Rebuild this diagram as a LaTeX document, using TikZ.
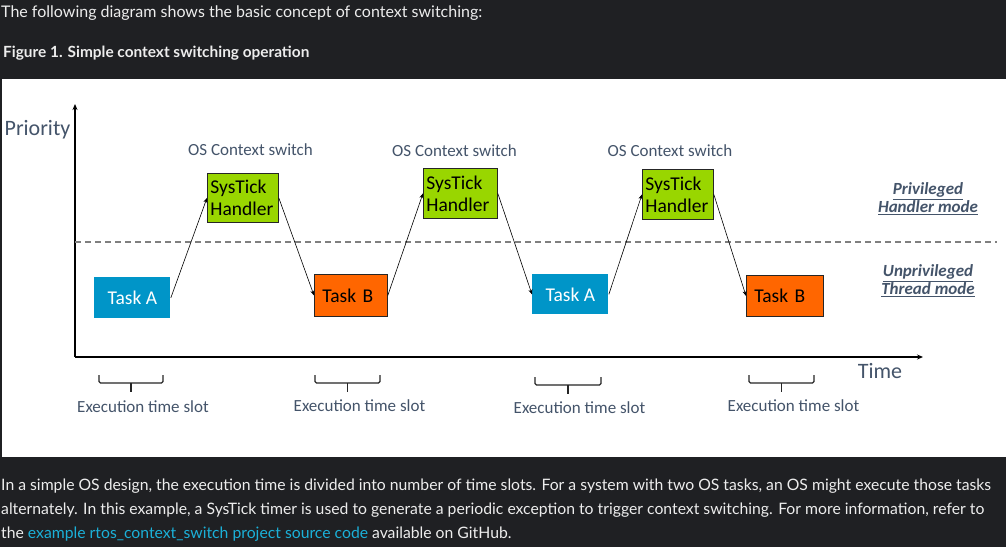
\documentclass[tikz,border=0pt]{standalone}
\usepackage{fontspec}
\setmainfont{Carlito}
\newfontfamily\lato{Lato}
\usetikzlibrary{arrows.meta}
\definecolor{pagebg}{HTML}{1F2023}
\definecolor{pagetext}{HTML}{EDEDED}
\definecolor{linkc}{HTML}{1BB0D8}
\definecolor{labgray}{HTML}{44546A}
\definecolor{taskblue}{HTML}{0095C8}
\definecolor{sysgreen}{HTML}{99D600}
\definecolor{taskorange}{HTML}{FF6600}
\definecolor{dashgray}{HTML}{7F7F7F}
\begin{document}
\begin{tikzpicture}[x=1pt,y=-1pt,
  box/.style={draw=black!85, line width=0.8pt, inner ysep=0pt, anchor=north west,
    font=\fontsize{19.5}{22}\selectfont},
  taskabox/.style={box, draw=none, fill=taskblue, text=white, align=center, inner xsep=0pt},
  taskbbox/.style={box, fill=taskorange, align=left, inner xsep=8pt},
  sysbox/.style={box, fill=sysgreen, align=left, inner xsep=3pt},
  lab/.style={text=labgray, font=\fontsize{17}{20}\selectfont, inner sep=0pt},
  modelab/.style={text=labgray, font=\fontsize{17}{18}\selectfont\bfseries\itshape, align=center, inner sep=0pt},
  conn/.style={line width=0.6pt, -{Stealth[length=5pt,width=4pt]}},
  axis/.style={line width=1.5pt, -{Stealth[length=6pt,width=5pt]}},
  bracestyle/.style={line width=1.3pt, draw=black!85, rounded corners=1.5pt},
  page/.style={text=pagetext, inner sep=0pt, anchor=base west, font=\lato\fontsize{15.75}{18}\selectfont}
]
\useasboundingbox (0,0) rectangle (1006,547);
\fill[pagebg] (0,0) rectangle (1006,547);
\fill[white] (2,79) rectangle (1006,457);

% page text
\node[page, font=\lato\fontsize{16}{18}\selectfont] (intro) at (1,17) {The following diagram shows the basic concept of context switching:};
\node[page, font=\lato\fontsize{15.4}{18}\selectfont\bfseries] (fig) at (3,57) {Figure 1. Simple context switching operation};
\node[page] (p1) at (1,490) {In a simple OS design, the execution time is divided into number of time slots. For a system with two OS tasks, an OS might execute those tasks};
\node[page] (p2) at (1,514) {alternately. In this example, a SysTick timer is used to generate a periodic exception to trigger context switching. For more information, refer to};
\node[page] (p3) at (1,538) {the \textcolor{linkc}{example rtos\_context\_switch project source code} available on GitHub.};

% axes
\coordinate (origin) at (75,357);
\coordinate (ytop) at (75,104);
\coordinate (xend) at (923,357);
\draw[axis] (origin) -- (ytop);
\draw[axis] (origin) -- (xend);
\coordinate (dashL) at (75,242);
\coordinate (dashR) at (997,242);
\draw[dashgray, line width=1.2pt, dash pattern=on 6pt off 4pt] (dashL) -- (dashR);

\node[lab, font=\fontsize{22}{24}\selectfont] (prio) at (37.5,130) {Priority};
\node[lab, font=\fontsize{22}{24}\selectfont] (time) at (880,371) {Time};

% boxes
\node[taskabox, minimum width=76pt, minimum height=41pt] (ta1) at (94,277) {Task A};
\node[sysbox, text width=65pt, minimum height=49pt] (s1) at (207,173) {SysTick\\Handler};
\node[taskbbox, text width=57pt, minimum height=42pt] (tb1) at (314,274) {Task B};
\node[sysbox, text width=68pt, minimum height=50pt] (s2) at (423,168) {SysTick\\Handler};
\node[taskabox, minimum width=76pt, minimum height=40pt] (ta2) at (532,274) {Task A};
\node[sysbox, text width=65pt, minimum height=50pt] (s3) at (642,169) {SysTick\\Handler};
\node[taskbbox, text width=61pt, minimum height=41pt] (tb2) at (746,275) {Task B};

\draw[conn] (ta1.east) -- (s1.west);
\draw[conn] (s1.east) -- (tb1.west);
\draw[conn] (tb1.east) -- (s2.west);
\draw[conn] (s2.east) -- (ta2.west);
\draw[conn] (ta2.east) -- (s3.west);
\draw[conn] (s3.east) -- (tb2.west);

% labels
\node[lab] (c1) at (250.5,150) {OS Context switch};
\node[lab] (c2) at (454.5,151) {OS Context switch};
\node[lab] (c3) at (670,151) {OS Context switch};

\node[modelab] (priv) at (928,199) {\underline{Privileged}\\\underline{Handler mode}};
\node[modelab] (unpriv) at (928,281) {\underline{Unprivileged}\\\underline{Thread mode}};

% braces
\foreach \a/\b/\t/\n/\lx/\ly in {99/163/375/e1/143/407, 315/380/375/e2/359.5/406, 535/601/377/e3/579.5/408, 749/814/375/e4/793.5/406}{
  \draw[bracestyle] (\a,\t) -- (\a,\t+8) -- (\b,\t+8) -- (\b,\t);
  \draw[line width=1.3pt, draw=black!85] ({(\a+\b)/2},\t+8) -- ({(\a+\b)/2},\t+17);
  \node[lab] (\n) at (\lx,\ly) {Execution time slot};
}
\end{tikzpicture}
\end{document}
